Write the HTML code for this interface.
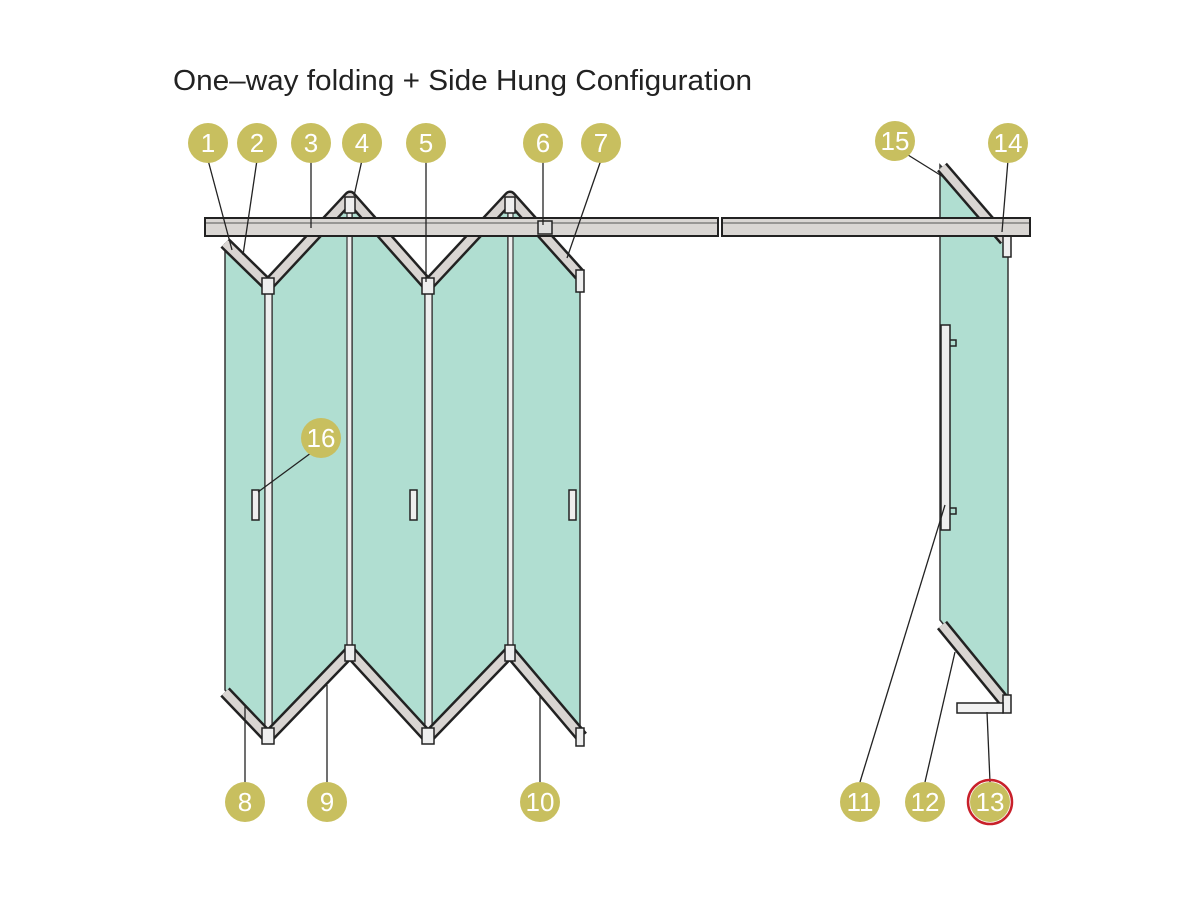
<!DOCTYPE html>
<html><head><meta charset="utf-8"><style>
html,body{margin:0;padding:0;background:#fff;}
svg{display:block;}
</style></head><body>
<svg width="1200" height="900" viewBox="0 0 1200 900" xmlns="http://www.w3.org/2000/svg" font-family="Liberation Sans, sans-serif">
<rect width="1200" height="900" fill="#fff"/>
<text x="173" y="90" font-size="29" fill="#222" textLength="579" lengthAdjust="spacingAndGlyphs">One–way folding + Side Hung Configuration</text>

<!-- glass panels -->
<g fill="#b0ded1" stroke="#333" stroke-width="1.5">
<polygon points="225,245 265,285 265,735 225,690"/>
<polygon points="272,285 350,200 350,650 272,735"/>
<polygon points="352,200 425,285 425,735 352,650"/>
<polygon points="432,285 508,200 508,650 432,735"/>
<polygon points="512,200 580,275 580,740 512,650"/>
<polygon points="940,165 1008,235 1008,705 940,620"/>
</g>
<!-- vertical stiles -->
<g fill="#eeeeee" stroke="#333" stroke-width="1.2">
<rect x="265" y="285" width="7" height="450"/>
<rect x="425" y="285" width="7" height="450"/>
<rect x="347" y="200" width="5" height="450"/>
<rect x="508" y="200" width="5" height="450"/>
</g>

<!-- frames top/bottom -->
<g fill="none" stroke-linejoin="round">
<polyline points="225,243 268,285 350,197 428,285 510,197 580,275" stroke="#222" stroke-width="13"/>
<polyline points="225,243 268,285 350,197 428,285 510,197 580,275" stroke="#d9d5d2" stroke-width="8"/>
<polyline points="225,692 268,737 350,652 428,737 510,652 582,737" stroke="#222" stroke-width="13"/>
<polyline points="225,692 268,737 350,652 428,737 510,652 582,737" stroke="#d9d5d2" stroke-width="8"/>
<line x1="942" y1="167" x2="1005" y2="240" stroke="#222" stroke-width="13"/>
<line x1="942" y1="167" x2="1005" y2="240" stroke="#d9d5d2" stroke-width="8"/>
<line x1="942" y1="625" x2="1005" y2="702" stroke="#222" stroke-width="13"/>
<line x1="942" y1="625" x2="1005" y2="702" stroke="#d9d5d2" stroke-width="8"/>
</g>
<!-- hinges -->
<g fill="#eee" stroke="#222" stroke-width="1.5">
<rect x="262" y="278" width="12" height="16"/>
<rect x="422" y="278" width="12" height="16"/>
<rect x="262" y="728" width="12" height="16"/>
<rect x="422" y="728" width="12" height="16"/>
<rect x="345" y="645" width="10" height="16"/>
<rect x="505" y="645" width="10" height="16"/>
<rect x="345" y="197" width="10" height="16"/>
<rect x="505" y="197" width="10" height="16"/>
<rect x="576" y="270" width="8" height="22"/>
<rect x="576" y="728" width="8" height="18"/>
<rect x="1003" y="235" width="8" height="22"/>
<rect x="1003" y="695" width="8" height="18"/>
<rect x="957" y="703" width="46" height="10" fill="#f2f2f2"/>
</g>

<!-- track -->
<rect x="205" y="218" width="513" height="18" fill="#d9d6d3" stroke="#222" stroke-width="2"/>
<line x1="206" y1="223" x2="717" y2="223" stroke="#555" stroke-width="1"/>
<rect x="722" y="218" width="308" height="18" fill="#d9d6d3" stroke="#222" stroke-width="2"/>
<line x1="723" y1="223" x2="1029" y2="223" stroke="#555" stroke-width="1"/>
<rect x="538" y="221" width="14" height="13" fill="#ddd" stroke="#222" stroke-width="1.5"/>

<!-- handles -->
<g fill="#eee" stroke="#222" stroke-width="1.5">
<rect x="252" y="490" width="7" height="30"/>
<rect x="410" y="490" width="7" height="30"/>
<rect x="569" y="490" width="7" height="30"/>
<rect x="941" y="325" width="9" height="205"/>
</g>
<g fill="none" stroke="#222" stroke-width="1.5">
<path d="M950,340 h6 v6 h-6"/><path d="M950,508 h6 v6 h-6"/>
</g>

<!-- leader lines -->
<g stroke="#222" stroke-width="1.3" fill="none">
<line x1="208" y1="160" x2="232" y2="250"/>
<line x1="257" y1="160" x2="243" y2="255"/>
<line x1="311" y1="160" x2="311" y2="228"/>
<line x1="362" y1="160" x2="354" y2="196"/>
<line x1="426" y1="160" x2="426" y2="282"/>
<line x1="543" y1="160" x2="543" y2="225"/>
<line x1="601" y1="160" x2="567" y2="258"/>
<line x1="245" y1="782" x2="245" y2="706"/>
<line x1="327" y1="782" x2="327" y2="685"/>
<line x1="540" y1="782" x2="540" y2="695"/>
<line x1="860" y1="782" x2="945" y2="505"/>
<line x1="925" y1="782" x2="955" y2="652"/>
<line x1="990" y1="782" x2="987" y2="712"/>
<line x1="900" y1="150" x2="945" y2="178"/>
<line x1="1008" y1="160" x2="1002" y2="232"/>
<line x1="315" y1="450" x2="258" y2="492"/>
</g>

<!-- numbered circles -->
<g font-size="26" fill="#fff" text-anchor="middle">
<g fill="#c8bf5f">
<circle cx="208" cy="143" r="20"/><circle cx="257" cy="143" r="20"/><circle cx="311" cy="143" r="20"/>
<circle cx="362" cy="143" r="20"/><circle cx="426" cy="143" r="20"/><circle cx="543" cy="143" r="20"/>
<circle cx="601" cy="143" r="20"/><circle cx="895" cy="141" r="20"/><circle cx="1008" cy="143" r="20"/>
<circle cx="321" cy="438" r="20"/><circle cx="245" cy="802" r="20"/><circle cx="327" cy="802" r="20"/>
<circle cx="540" cy="802" r="20"/><circle cx="860" cy="802" r="20"/><circle cx="925" cy="802" r="20"/>
<circle cx="990" cy="802" r="20"/>
</g>
<circle cx="990" cy="802" r="22" fill="none" stroke="#c8202a" stroke-width="2.5"/>
<text x="208" y="152">1</text><text x="257" y="152">2</text><text x="311" y="152">3</text>
<text x="362" y="152">4</text><text x="426" y="152">5</text><text x="543" y="152">6</text>
<text x="601" y="152">7</text><text x="895" y="150">15</text><text x="1008" y="152">14</text>
<text x="321" y="447">16</text><text x="245" y="811">8</text><text x="327" y="811">9</text>
<text x="540" y="811">10</text><text x="860" y="811">11</text><text x="925" y="811">12</text>
<text x="990" y="811">13</text>
</g>
</svg>
</body></html>
